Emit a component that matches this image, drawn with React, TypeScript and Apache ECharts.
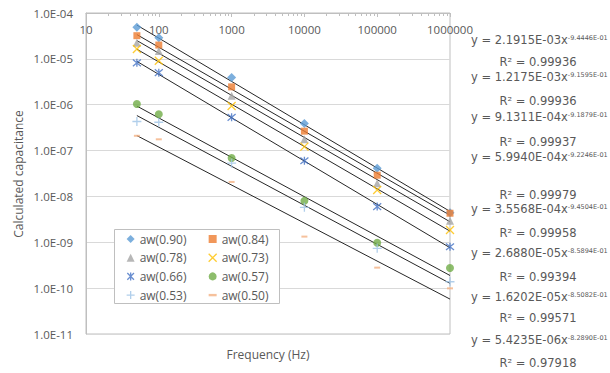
import React, { useEffect, useRef } from "react";
import * as echarts from "echarts";

// ---- data ----
const frequencies = [50, 100, 1000, 10000, 100000, 1000000];
const seriesNames = ["aw(0.90)", "aw(0.84)", "aw(0.78)", "aw(0.73)", "aw(0.66)", "aw(0.57)", "aw(0.53)", "aw(0.50)"];
const aw090 = [4.9e-5, 2.9e-5, 3.9e-6, 3.9e-7, 4.1e-8, 4.4e-9];
const aw084 = [3.2e-5, 2.0e-5, 2.45e-6, 2.65e-7, 2.9e-8, 4.3e-9];
const aw078 = [2.25e-5, 1.48e-5, 1.57e-6, 1.76e-7, 1.93e-8, 2.95e-9];
const aw073 = [1.64e-5, 9.1e-6, 9.4e-7, 1.22e-7, 1.38e-8, 1.85e-9];
const aw066 = [8.2e-6, 5.0e-6, 5.3e-7, 6.0e-8, 6.0e-9, 8.0e-10];
const aw057 = [1.04e-6, 6.2e-7, 6.9e-8, 8.0e-9, 9.8e-10, 2.75e-10];
const aw053 = [4.3e-7, 4.15e-7, 5.3e-8, 5.8e-9, 7.4e-10, 1.38e-10];
const aw050 = [2.1e-7, 1.76e-7, 2.07e-8, 1.33e-9, 2.8e-10, 9.9e-11];
const allValues = [aw090, aw084, aw078, aw073, aw066, aw057, aw053, aw050];

// power trendlines y = a * x^b
const coefA = ["2.1915E-03", "1.2175E-03", "9.1311E-04", "5.9940E-04", "3.5568E-04", "2.6880E-05", "1.6202E-05", "5.4235E-06"];
const coefB = ["-9.4446E-01", "-9.1595E-01", "-9.1879E-01", "-9.2246E-01", "-9.4504E-01", "-8.5894E-01", "-8.5082E-01", "-8.2890E-01"];
const rSquared = ["0.99936", "0.99936", "0.99937", "0.99979", "0.99958", "0.99394", "0.99571", "0.97918"];

const xTickLabels = ["10", "100", "1000", "10000", "100000", "1000000"];
const yTickLabels = ["1.0E-11", "1.0E-10", "1.0E-09", "1.0E-08", "1.0E-07", "1.0E-06", "1.0E-05", "1.0E-04"];

// ---- styling ----
const colors = ["#5B9BD5", "#ED7D31", "#A5A5A5", "#FFC000", "#4472C4", "#70AD47", "#9DC3E6", "#F4B183"];
const symbols = [
  { symbol: "diamond", size: 9, stroke: false },
  { symbol: "rect", size: 7, stroke: false },
  { symbol: "triangle", size: 8, stroke: false },
  { symbol: "path://M0,0L10,10M10,0L0,10", size: 8, stroke: true },
  { symbol: "path://M0,0L10,10M10,0L0,10M5,-1L5,11", size: 8, stroke: true },
  { symbol: "circle", size: 8, stroke: false },
  { symbol: "path://M5,0L5,10M0,5L10,5", size: 9, stroke: true },
  { symbol: "path://M0,0L10,0L10,3L0,3Z", size: [6, 2], stroke: false },
];
const eqRowY = [40, 77, 117, 157, 209, 253, 297, 340];
const r2RowY = [62, 101, 142, 195, 233, 277, 318, 363];
const FONT = "Open Sans";
const EQFONT = "DejaVu Sans";
const TEXT = "#595959";
const AXIS = "#bfbfbf";

function buildOption() {
  const xMin = frequencies[0];
  const xMax = frequencies[frequencies.length - 1];

  const scatter = allValues.map((vals, i) => ({
    type: "scatter",
    name: seriesNames[i],
    data: vals.map((v, j) => [frequencies[j], v]),
    symbol: symbols[i].symbol,
    symbolSize: symbols[i].size,
    symbolKeepAspect: false,
    itemStyle: symbols[i].stroke
      ? { color: colors[i], borderColor: colors[i], borderWidth: 1.3 }
      : { color: colors[i] },
    z: 3,
    silent: true,
  }));

  const trends = coefA.map((aStr, i) => {
    const a = parseFloat(aStr);
    const b = parseFloat(coefB[i]);
    return {
      type: "line",
      name: "trend" + i,
      data: [xMin, xMax].map((x) => [x, a * Math.pow(x, b)]),
      symbol: "none",
      lineStyle: { color: "#262626", width: 1 },
      z: 2,
      silent: true,
    };
  });

  const minorTicks: number[][] = [];
  for (let d = 1; d < 6; d++) {
    for (let m = 2; m <= 9; m++) minorTicks.push([m * Math.pow(10, d), 1e-4]);
  }

  const minorTickSeries = {
    type: "custom",
    data: minorTicks,
    silent: true,
    clip: false,
    z: 4,
    renderItem: (params: any, api: any) => {
      const p = api.coord([api.value(0), api.value(1)]);
      const x = Math.round(p[0]) + 0.5;
      return {
        type: "line",
        shape: { x1: x, y1: p[1], x2: x, y2: p[1] + 3 },
        style: { stroke: AXIS, lineWidth: 1 },
      };
    },
  };

  const legendItem = (i: number) => ({
    name: seriesNames[i],
    itemStyle: { borderWidth: symbols[i].stroke ? 1.3 : 0 },
  });
  const legendBase = {
    orient: "vertical",
    top: 233,
    itemWidth: 8,
    itemHeight: 8,
    itemGap: 6.7,
    padding: 0,
    selectedMode: false,
    textStyle: { fontFamily: FONT, fontSize: 12, color: TEXT },
    z: 6,
  };

  const graphics: any[] = [
    {
      type: "rect",
      shape: { x: 114.5, y: 229.5, width: 165, height: 74 },
      style: { fill: "#ffffff", stroke: AXIS, lineWidth: 1 },
      z: 5,
    },
    {
      type: "text",
      x: 268,
      y: 354,
      style: { text: "Frequency (Hz)", fontFamily: FONT, fontSize: 12, fill: TEXT, align: "center", verticalAlign: "middle" },
    },
    {
      type: "text",
      x: 18,
      y: 174,
      rotation: Math.PI / 2,
      style: { text: "Calculated capacitance", fontFamily: FONT, fontSize: 12, fill: TEXT, align: "center", verticalAlign: "middle" },
    },
  ];
  coefA.forEach((a, i) => {
    graphics.push({
      type: "text",
      x: 471,
      y: eqRowY[i],
      style: {
        text: `{m|y = ${a}x}{s|${coefB[i]}}`,
        align: "left",
        verticalAlign: "middle",
        rich: {
          m: { fontFamily: EQFONT, fontSize: 11.5, fill: TEXT, color: TEXT },
          s: { fontFamily: EQFONT, fontSize: 6.5, fill: TEXT, color: TEXT, verticalAlign: "top" },
        },
      },
    });
    graphics.push({
      type: "text",
      x: 538,
      y: r2RowY[i],
      style: { text: `R² = ${rSquared[i]}`, fontFamily: EQFONT, fontSize: 11.5, fill: TEXT, align: "center", verticalAlign: "middle" },
    });
  });

  return {
    animation: false,
    backgroundColor: "#ffffff",
    textStyle: { fontFamily: FONT },
    grid: {
      left: 86,
      top: 13,
      right: 160,
      bottom: 39,
      show: true,
      borderColor: AXIS,
      borderWidth: 1,
      containLabel: false,
      outerBoundsMode: "none",
    },
    legend: [
      { ...legendBase, left: 126, data: [0, 2, 4, 6].map(legendItem) },
      { ...legendBase, left: 208, data: [1, 3, 5, 7].map(legendItem) },
    ],
    xAxis: {
      type: "log",
      logBase: 10,
      min: 10,
      max: 1000000,
      position: "top",
      splitNumber: 5,
      axisLine: { show: true, lineStyle: { color: AXIS } },
      axisTick: { show: true, inside: true, length: 4, lineStyle: { color: AXIS } },
      splitLine: { show: false },
      axisLabel: {
        inside: true,
        margin: 10,
        fontFamily: FONT,
        fontSize: 11.5,
        color: TEXT,
        formatter: (v: number) => xTickLabels[Math.round(Math.log10(v)) - 1] ?? "",
      },
    },
    yAxis: {
      type: "log",
      logBase: 10,
      min: 1e-11,
      max: 1e-4,
      splitNumber: 7,
      axisLine: { show: true, lineStyle: { color: AXIS } },
      axisTick: { show: false },
      splitLine: { show: true, lineStyle: { color: "#d9d9d9", width: 1 } },
      axisLabel: {
        margin: 13,
        fontFamily: FONT,
        fontSize: 11.5,
        color: TEXT,
        formatter: (v: number) => yTickLabels[Math.round(Math.log10(v)) + 11] ?? "",
      },
    },
    graphic: graphics,
    series: [...trends, ...scatter, minorTickSeries],
  };
}

export default function App() {
  const ref = useRef<HTMLDivElement>(null);
  useEffect(() => {
    if (!ref.current) return;
    const chart = echarts.init(ref.current, null, { renderer: "svg" });
    chart.setOption(buildOption() as any);
    return () => chart.dispose();
  }, []);
  return (
    <div
      ref={ref}
      style={{ position: "fixed", left: 0, top: 0, width: 610, height: 373, background: "#fff" }}
    />
  );
}
